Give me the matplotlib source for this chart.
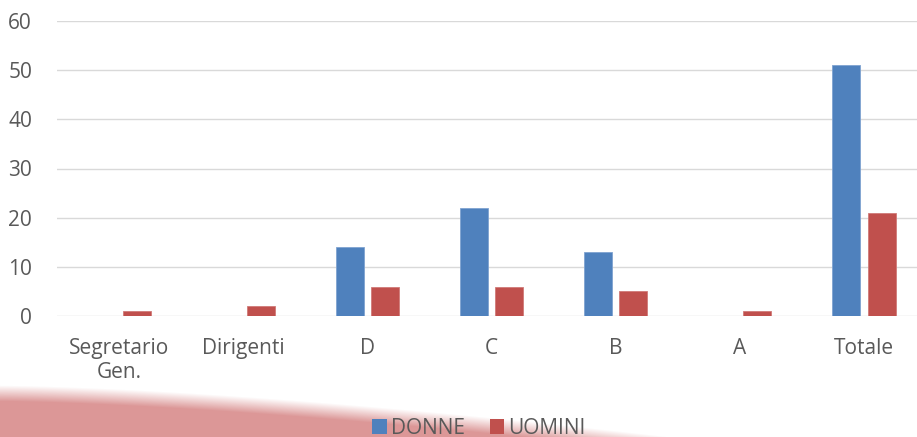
import numpy as np
import matplotlib
matplotlib.use("Agg")
import matplotlib.pyplot as plt
from matplotlib.patches import Patch

categories = ["Segretario\nGen.", "Dirigenti", "D", "C", "B", "A", "Totale"]
donne = [0, 0, 14, 22, 13, 0, 51]
uomini = [1, 2, 6, 6, 5, 1, 21]
yticks = [0, 10, 20, 30, 40, 50, 60]

plt.rcParams['font.family'] = ['Open Sans', 'DejaVu Sans']
W, H = 917, 437
fig = plt.figure(figsize=(W / 100, H / 100), dpi=100)

# decorative swoosh in the background
bg = fig.add_axes([0, 0, 1, 1], zorder=-5)
bg.set_axis_off()
xx, yy = np.meshgrid(np.arange(W), np.arange(H))
yb = 392 + 46 * (np.clip(xx, 0, None) / 620.0) ** 1.5
alpha = np.clip((yy - yb) / 16.0 + 0.45, 0, 1)
img = np.zeros((H, W, 4))
img[..., 0] = 218 / 255
img[..., 1] = 146 / 255
img[..., 2] = 146 / 255
img[..., 3] = alpha * 0.95
bg.imshow(img, extent=[0, W, H, 0], aspect='auto', interpolation='bilinear')
bg.set_xlim(0, W)
bg.set_ylim(H, 0)

left = 57 / W
right = 926 / W
bottom = (H - 316) / H
top = (H - 21) / H
ax = fig.add_axes([left, bottom, right - left, top - bottom])
ax.set_facecolor('none')

x = np.arange(len(categories))
bw = 0.225
off = 0.142
ax.bar(x - off, donne, bw, color='#4f81bd', edgecolor='#7fa3d1', linewidth=0.6, zorder=3)
ax.bar(x + off, uomini, bw, color='#c0504d', edgecolor='#d07a78', linewidth=0.6, zorder=3)

ax.set_xlim(-0.5, len(categories) - 0.5)
ax.set_ylim(0, 60)
ax.set_yticks(yticks)
ax.set_xticks(x)
ax.set_xticklabels(categories)
ax.yaxis.grid(True, color='#d9d9d9', linewidth=1.0, zorder=0)
ax.set_axisbelow(True)
for s in ax.spines.values():
    s.set_visible(False)
ax.tick_params(axis='both', length=0, labelsize=15, labelcolor='#595959')
ax.tick_params(axis='x', pad=16)
ax.tick_params(axis='y', pad=18)

handles = [Patch(facecolor='#4f81bd', label='DONNE'), Patch(facecolor='#c0504d', label='UOMINI')]
fig.legend(handles=handles, loc='center', bbox_to_anchor=(479 / W, (H - 428) / H),
           ncol=2, frameon=False, fontsize=15, handlelength=0.7, handleheight=0.7,
           handletextpad=0.2, columnspacing=1.2, labelcolor='#595959',
           borderpad=0.0, borderaxespad=0.0)

fig.savefig('out.png', dpi=100)
